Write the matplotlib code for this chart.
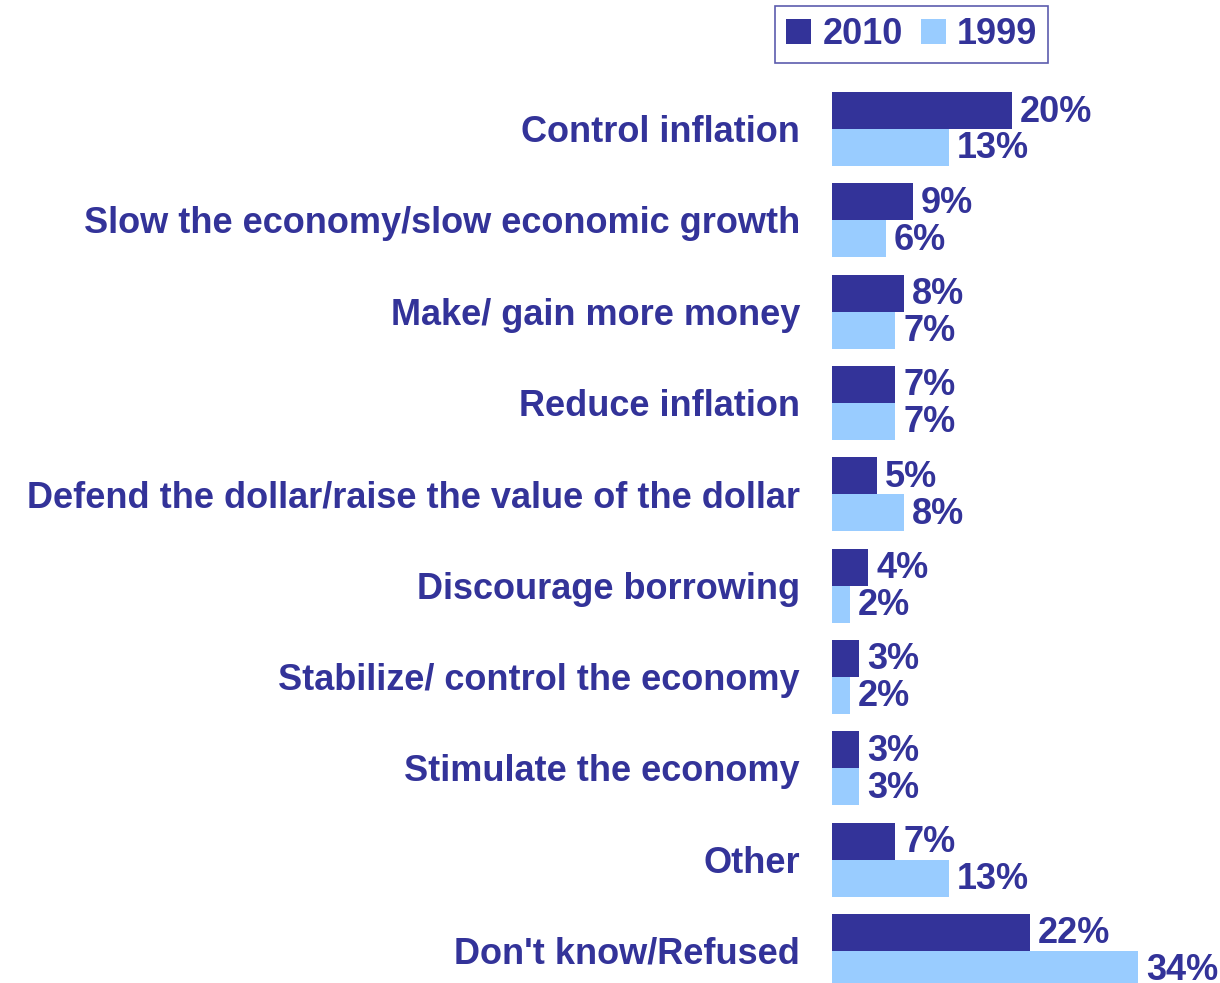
import matplotlib
matplotlib.use("Agg")
import matplotlib.pyplot as plt
from matplotlib.patches import Patch

INK = "#333399"
DARK, LIGHT = "#333399", "#99ccff"
plt.rcParams.update({"font.family": ["Liberation Sans", "DejaVu Sans"],
                     "font.weight": "bold"})

categories = ["Control inflation",
              "Slow the economy/slow economic growth",
              "Make/ gain more money",
              "Reduce inflation",
              "Defend the dollar/raise the value of the dollar",
              "Discourage borrowing",
              "Stabilize/ control the economy",
              "Stimulate the economy",
              "Other",
              "Don't know/Refused"]
vals_2010 = [20, 9, 8, 7, 5, 4, 3, 3, 7, 22]
vals_1999 = [13, 6, 7, 7, 8, 2, 2, 3, 13, 34]

W, H = 1220, 983
fig = plt.figure(figsize=(W / 100, H / 100), dpi=100)
# axes start at the bar baseline and run to the right edge
x0 = 832
ax = fig.add_axes([x0 / W, 0, (W - x0) / W, 1])
ppu = 9.0            # pixels per percentage point
row = 91.33          # pixels between category rows
top = 129            # pixel y of the first row centre
ax.set_xlim(0, (W - x0) / ppu)
ax.set_ylim((H - top) / row, -top / row)
ax.axis("off")

h = 0.405
ys = range(len(categories))
ax.barh([y - h / 2 for y in ys], vals_2010, height=h, color=DARK)
ax.barh([y + h / 2 for y in ys], vals_1999, height=h, color=LIGHT)

fs = 26
dy = 3.5 / row       # nudge category text down so glyphs sit centred
dv = 1.5 / row
for y, cat, a, b in zip(ys, categories, vals_2010, vals_1999):
    ax.text(-32 / ppu, y + dy, cat, ha="right", va="center", fontsize=fs,
            color=INK, clip_on=False)
    ax.text(a + 0.9, y - h / 2 + dv, f"{a}%", ha="left", va="center",
            fontsize=fs, color=INK, clip_on=False)
    ax.text(b + 0.9, y + h / 2 + dv, f"{b}%", ha="left", va="center",
            fontsize=fs, color=INK, clip_on=False)

handles = [Patch(facecolor=DARK, label="2010"), Patch(facecolor=LIGHT, label="1999")]
leg = fig.legend(handles=handles, loc="upper right",
                 bbox_to_anchor=(1048 / W, 1 - 6 / H), ncol=2, fontsize=fs,
                 frameon=True, fancybox=False, handlelength=0.7,
                 handleheight=0.7, handletextpad=0.3, columnspacing=0.5,
                 borderpad=0.3, borderaxespad=0)
leg.get_frame().set_edgecolor(INK)
leg.get_frame().set_linewidth(1.2)
for t in leg.get_texts():
    t.set_color(INK)

fig.savefig("out.png", dpi=100)
